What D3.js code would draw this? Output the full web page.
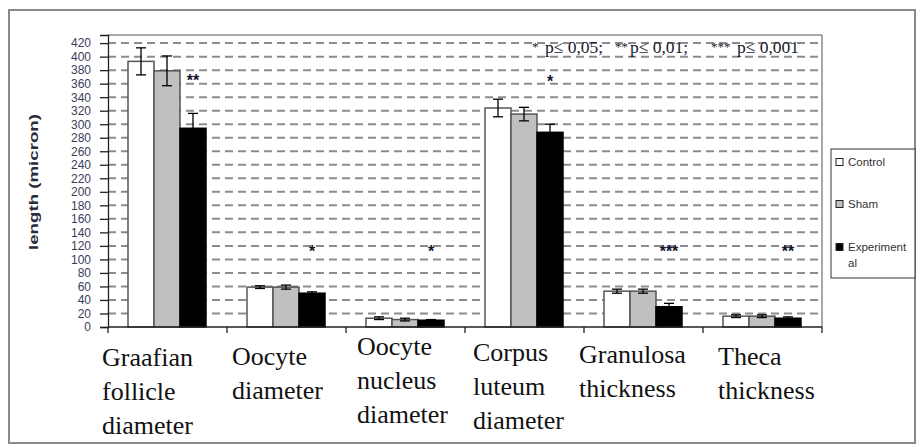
<!DOCTYPE html>
<html>
<head>
<meta charset="utf-8">
<script src="https://cdn.jsdelivr.net/npm/d3@7"></script>
<style>
  body { margin: 0; background: #fff; }
  svg { display: block; }
</style>
</head>
<body>
<svg width="920" height="446"></svg>
<script>
// chart data
var categories = ['Graafian follicle diameter', 'Oocyte diameter', 'Oocyte nucleus diameter',
                  'Corpus luteum diameter', 'Granulosa thickness', 'Theca thickness'];
var labelLines = [['Graafian', 'follicle', 'diameter'], ['Oocyte', 'diameter'],
                  ['Oocyte', 'nucleus', 'diameter'], ['Corpus', 'luteum', 'diameter'],
                  ['Granulosa', 'thickness'], ['Theca', 'thickness']];
var series = ['Control', 'Sham', 'Experimental'];
var control = [393, 59, 13, 324, 53, 16];
var sham = [379, 59, 11, 315, 53, 16];
var experimental = [294, 50, 10, 288, 30, 13];
var controlErr = [20, 2, 2, 13, 3, 2];
var shamErr = [22, 3, 2, 10, 3, 2];
var experimentalErr = [22, 2, 1, 12, 5, 2];
var stars = ['**', '*', '*', '*', '***', '**'];
var starLevel = [370, 117, 117, 368, 117, 117];
var yTicks = d3.range(0, 421, 20);
var noteParts = ['*', 'p≤ 0,05;', '**', 'p≤ 0,01;', '***', 'p≤ 0,001'];

var values = [control, sham, experimental];
var errors = [controlErr, shamErr, experimentalErr];

// layout
var plot = { left: 108, right: 822, top: 35, bottom: 327 };
var labelNudge = [[-6, 4], [5, 3], [11, -7], [8, -1], [-5, 1], [15, 3]];
var noteX = [532, 545, 615, 630, 711, 737];
var fills = ['#ffffff', '#c0c0c0', '#000000'];
var serif = "'Liberation Serif', 'Times New Roman', serif";
var sans = "'Liberation Sans', Arial, sans-serif";

var svg = d3.select('svg');

svg.append('rect')
  .attr('x', 9).attr('y', 10).attr('width', 906).attr('height', 433)
  .attr('fill', '#fff').attr('stroke', '#8a8a8a').attr('stroke-width', 2);

var x0 = d3.scaleBand().domain(categories).range([plot.left, plot.right]);
var x1 = d3.scaleBand().domain(series).range([20, 98]);
var y = d3.scaleLinear().domain([0, 432]).range([plot.bottom, plot.top]);

// dashed grid
svg.append('g')
  .selectAll('line')
  .data(yTicks.filter(function(d) { return d > 0; }))
  .enter().append('line')
    .attr('x1', plot.left).attr('x2', plot.right)
    .attr('y1', function(d) { return y(d); })
    .attr('y2', function(d) { return y(d); })
    .attr('stroke', '#8c8c8c')
    .attr('stroke-width', 2)
    .attr('stroke-dasharray', '8,5');

// plot frame (top / right)
svg.append('path')
  .attr('d', 'M' + plot.left + ',' + plot.top + 'H' + plot.right + 'V' + plot.bottom)
  .attr('fill', 'none').attr('stroke', '#555').attr('stroke-width', 1);

// significance note, small stars before each p
svg.append('g')
  .selectAll('text')
  .data(noteParts)
  .enter().append('text')
    .attr('x', function(d, i) { return noteX[i]; })
    .attr('y', function(d, i) { return i % 2 ? 53 : 51; })
    .attr('font-family', serif)
    .attr('font-size', function(d, i) { return i % 2 ? 17.5 : 13; })
    .attr('fill', '#1a1a2e')
    .text(function(d) { return d; });

// bars
var groups = svg.append('g')
  .selectAll('g')
  .data(categories)
  .enter().append('g')
    .attr('transform', function(d) { return 'translate(' + x0(d) + ',0)'; });

function cells(d, i) {
  return series.map(function(s, k) {
    return { s: s, k: k, v: values[k][i], e: errors[k][i] };
  });
}

groups.selectAll('rect')
  .data(cells)
  .enter().append('rect')
    .attr('x', function(d) { return x1(d.s); })
    .attr('y', function(d) { return y(d.v); })
    .attr('width', x1.bandwidth())
    .attr('height', function(d) { return y(0) - y(d.v); })
    .attr('fill', function(d) { return fills[d.k]; })
    .attr('stroke', function(d) { return d.k === 2 ? '#000' : '#555'; })
    .attr('stroke-width', 1.5);

// error bars
var eb = groups.selectAll('g.err')
  .data(cells)
  .enter().append('g').attr('class', 'err');

eb.append('line')
  .attr('x1', function(d) { return x1(d.s) + x1.bandwidth() / 2; })
  .attr('x2', function(d) { return x1(d.s) + x1.bandwidth() / 2; })
  .attr('y1', function(d) { return y(d.v + d.e); })
  .attr('y2', function(d) { return y(d.v - d.e); })
  .attr('stroke', '#000').attr('stroke-width', 1.3);

eb.selectAll('line.cap')
  .data(function(d) { return [d.v + d.e, d.v - d.e].map(function(v) { return { s: d.s, v: v }; }); })
  .enter().append('line')
    .attr('class', 'cap')
    .attr('x1', function(d) { return x1(d.s) + x1.bandwidth() / 2 - 5; })
    .attr('x2', function(d) { return x1(d.s) + x1.bandwidth() / 2 + 5; })
    .attr('y1', function(d) { return y(d.v); })
    .attr('y2', function(d) { return y(d.v); })
    .attr('stroke', '#000').attr('stroke-width', 1.3);

// significance stars
groups.append('text')
  .attr('x', x1('Experimental') + x1.bandwidth() / 2)
  .attr('y', function(d, i) { return y(starLevel[i]) + 9; })
  .attr('text-anchor', 'middle')
  .attr('font-family', sans)
  .attr('font-weight', 'bold')
  .attr('font-size', 16)
  .attr('fill', '#14142a')
  .text(function(d, i) { return stars[i]; });

// axes
var yAxis = svg.append('g')
  .attr('transform', 'translate(' + plot.left + ',0)')
  .call(d3.axisLeft(y).tickValues(yTicks).tickSize(8).tickPadding(9));
yAxis.select('.domain').attr('stroke', '#222').attr('stroke-width', 1.3);
yAxis.selectAll('.tick line').attr('stroke', '#222').attr('stroke-width', 1.3);
yAxis.selectAll('.tick text')
  .attr('font-family', sans)
  .attr('font-size', 12)
  .attr('fill', '#3c3c5a');

var xAxis = svg.append('g')
  .attr('transform', 'translate(0,' + plot.bottom + ')');
xAxis.append('line')
  .attr('x1', plot.left).attr('x2', plot.right)
  .attr('stroke', '#222').attr('stroke-width', 1.3);
xAxis.selectAll('line.tk')
  .data(categories.map(function(c) { return x0(c); }).concat([plot.right]))
  .enter().append('line')
    .attr('class', 'tk')
    .attr('x1', function(d) { return d; }).attr('x2', function(d) { return d; })
    .attr('y1', 0).attr('y2', 6)
    .attr('stroke', '#222').attr('stroke-width', 1.3);

// category labels
var labels = svg.append('g')
  .selectAll('text')
  .data(categories)
  .enter().append('text')
    .attr('font-family', serif)
    .attr('font-size', 26)
    .attr('fill', '#111')
    .attr('transform', function(d, i) {
      return 'translate(' + (x0(d) + labelNudge[i][0]) + ',' + (362 + labelNudge[i][1]) + ')';
    });
labels.selectAll('tspan')
  .data(function(d, i) { return labelLines[i]; })
  .enter().append('tspan')
    .attr('x', 0)
    .attr('y', function(d, j) { return j * 34; })
    .text(function(d) { return d; });

// y title
svg.append('text')
  .attr('transform', 'translate(38,182) rotate(-90)')
  .attr('text-anchor', 'middle')
  .attr('font-family', sans)
  .attr('font-weight', 'bold')
  .attr('font-size', 13)
  .attr('textLength', 136)
  .attr('lengthAdjust', 'spacingAndGlyphs')
  .attr('fill', '#2a2a3a')
  .text('length (micron)');

// legend
var legend = svg.append('g');
legend.append('rect')
  .attr('x', 831).attr('y', 149).attr('width', 84).attr('height', 129)
  .attr('fill', '#fff').attr('stroke', '#333').attr('stroke-width', 1);
var legendY = [162, 204, 247];
var li = legend.selectAll('g.item')
  .data(series)
  .enter().append('g')
    .attr('transform', function(d, i) { return 'translate(836,' + legendY[i] + ')'; });
li.append('rect')
  .attr('x', 0).attr('y', -3.5).attr('width', 7).attr('height', 7)
  .attr('fill', function(d, i) { return fills[i]; })
  .attr('stroke', '#222').attr('stroke-width', 1);
li.append('text')
  .attr('x', 12).attr('y', 4)
  .attr('font-family', sans)
  .attr('font-size', 11.5)
  .attr('fill', '#333')
  .selectAll('tspan')
  .data(function(d) { return d === 'Experimental' ? ['Experiment', 'al'] : [d]; })
  .enter().append('tspan')
    .attr('x', 12)
    .attr('dy', function(d, j) { return j * 16; })
    .text(function(d) { return d; });
</script>
</body>
</html>
